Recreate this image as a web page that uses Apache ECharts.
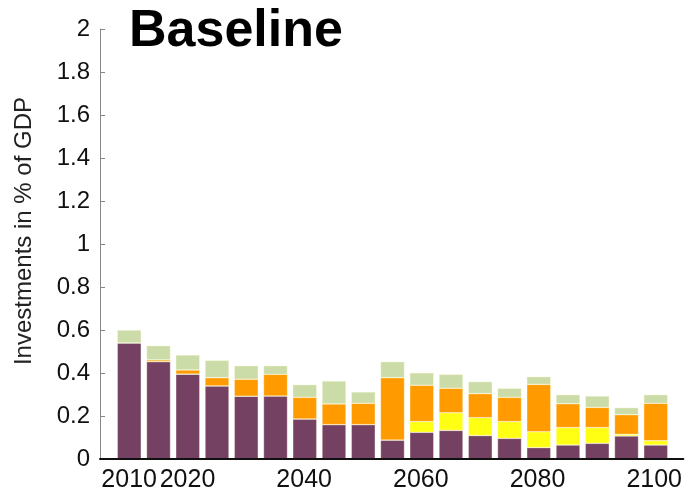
<!DOCTYPE html>
<html>
<head>
<meta charset="utf-8">
<style>
  html, body { margin: 0; padding: 0; background: #fff; }
  #chart { width: 685px; height: 496px; }
</style>
<script src="https://cdn.jsdelivr.net/npm/echarts@6/dist/echarts.min.js"></script>
</head>
<body>
<div id="chart"></div>
<script>
// Investment shares (% of GDP) per 5-year period, Baseline scenario
const years = [2010, 2015, 2020, 2025, 2030, 2035, 2040, 2045, 2050, 2055,
               2060, 2065, 2070, 2075, 2080, 2085, 2090, 2095, 2100];
const purpleSeg = [0.54, 0.453, 0.395, 0.34, 0.292, 0.293, 0.186, 0.16, 0.16, 0.088,
                   0.124, 0.133, 0.109, 0.096, 0.053, 0.065, 0.073, 0.107, 0.065];
const yellowSeg = [0, 0, 0, 0, 0, 0, 0, 0, 0, 0,
                   0.05, 0.082, 0.083, 0.078, 0.074, 0.081, 0.073, 0.008, 0.02];
const orangeSeg = [0, 0.008, 0.019, 0.038, 0.079, 0.101, 0.101, 0.096, 0.099, 0.29,
                   0.169, 0.114, 0.112, 0.113, 0.22, 0.111, 0.094, 0.091, 0.174];
const greenSeg  = [0.06, 0.066, 0.07, 0.081, 0.063, 0.04, 0.059, 0.107, 0.053, 0.075,
                   0.058, 0.065, 0.056, 0.042, 0.036, 0.042, 0.053, 0.033, 0.04];
const xTickLabels = [2010, 2020, 2040, 2060, 2080, 2100];

const font = '"Liberation Sans", Arial, Helvetica, sans-serif';

// Layout: the frame axes span 2005..2105; bars sit on a category axis whose
// bands are exactly 5 years wide, so it is inset by half a band on each side.
const plotLeft = 100, plotRight = 0, plotTop = 29, plotBottom = 37;
const plotWidth = 685 - plotLeft - plotRight;
const band = plotWidth / 20;

function barSeries(name, vals, color) {
  return {
    name: name,
    type: 'bar',
    stack: 'total',
    xAxisIndex: 1,
    yAxisIndex: 1,
    barWidth: 24,
    data: vals,
    itemStyle: { color: color, borderColor: 'rgba(255,255,220,0.5)', borderWidth: 0.6 },
    emphasis: { disabled: true }
  };
}

const chart = echarts.init(document.getElementById('chart'), null, { renderer: 'canvas' });
chart.setOption({
  animation: false,
  backgroundColor: '#ffffff',
  title: {
    text: 'Baseline',
    left: 124,
    top: 1,
    textStyle: { fontFamily: font, fontSize: 52, fontWeight: 'bold', color: '#000' }
  },
  graphic: [{
    type: 'text',
    x: 24,
    y: 231,
    rotation: Math.PI / 2,
    style: {
      text: 'Investments in % of GDP',
      font: '24px ' + font,
      fill: '#222',
      align: 'center',
      verticalAlign: 'middle'
    }
  }],
  grid: [
    { left: plotLeft, right: plotRight, top: plotTop, bottom: plotBottom },
    { left: plotLeft + band / 2, right: plotRight + band / 2, top: plotTop, bottom: plotBottom }
  ],
  xAxis: [{
    type: 'value',
    gridIndex: 0,
    min: 2005,
    max: 2105,
    splitLine: { show: false },
    axisLine: { show: true, onZero: false, lineStyle: { color: '#111', width: 2 } },
    axisTick: { show: false },
    axisLabel: {
      customValues: xTickLabels,
      fontFamily: font,
      fontSize: 25,
      color: '#111',
      margin: 9,
      formatter: v => String(v)
    },
    z: 5
  }, {
    type: 'category',
    gridIndex: 1,
    data: years,
    show: false
  }],
  yAxis: [{
    type: 'value',
    gridIndex: 0,
    min: 0,
    max: 2,
    interval: 0.2,
    splitLine: { show: false },
    axisLine: { show: true, lineStyle: { color: '#888', width: 1 } },
    axisTick: { show: true, inside: true, length: 5, lineStyle: { color: '#888' } },
    axisLabel: {
      fontFamily: font,
      fontSize: 24,
      color: '#111',
      margin: 10,
      formatter: v => String(+v.toFixed(1))
    }
  }, {
    type: 'value',
    gridIndex: 1,
    min: 0,
    max: 2,
    show: false
  }],
  series: [
    barSeries('purple', purpleSeg, '#744163'),
    barSeries('yellow', yellowSeg, '#ffff14'),
    barSeries('orange', orangeSeg, '#ff9a00'),
    barSeries('green', greenSeg, '#ccdca8')
  ]
});
</script>
</body>
</html>
